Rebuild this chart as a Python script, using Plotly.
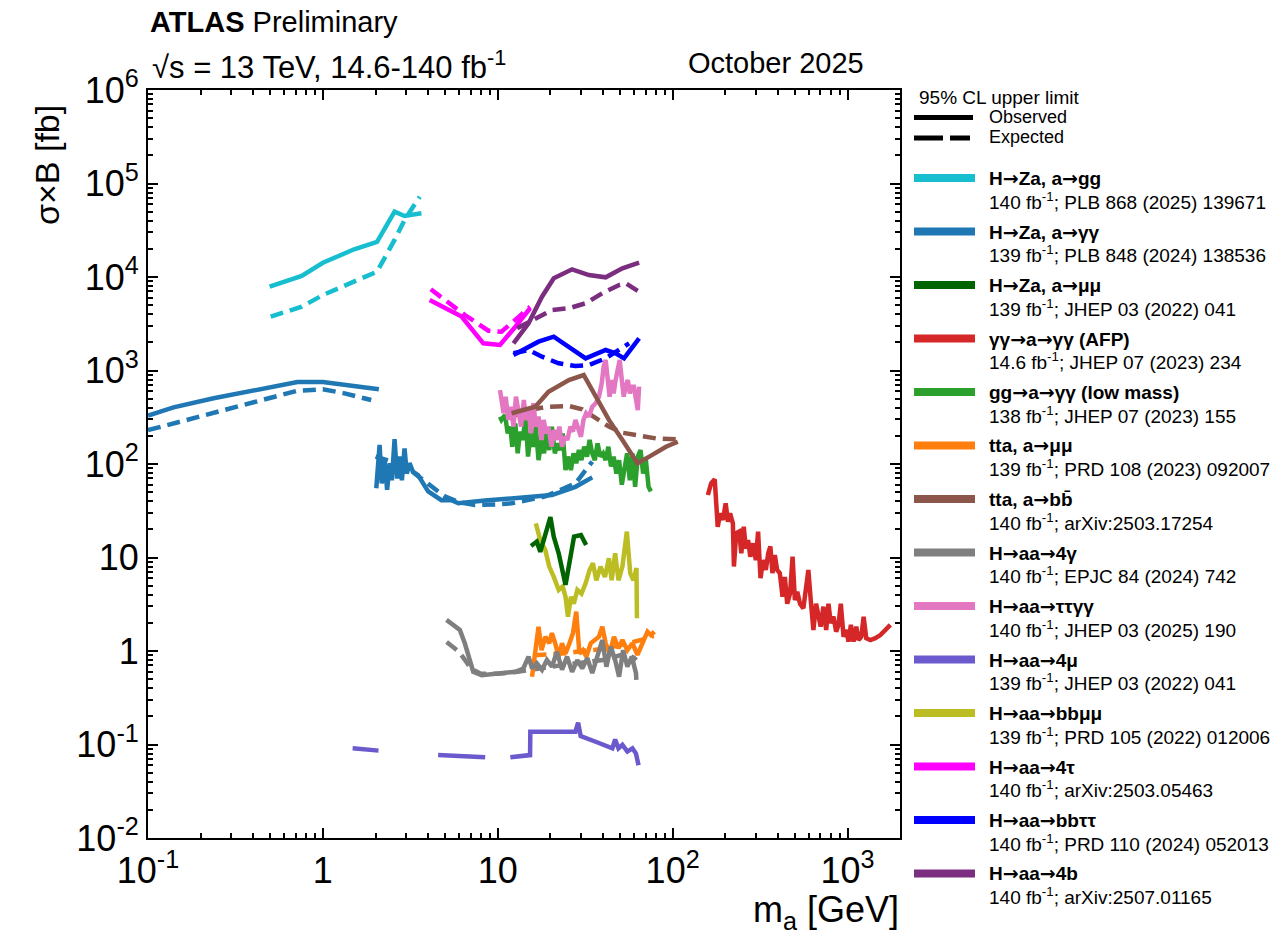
import plotly.graph_objects as go

# ---------------------------------------------------------------------------
# Upper limits on sigma x B [fb] versus m_a [GeV]
# ---------------------------------------------------------------------------

# H -> Za, a -> gg
zagg_mass_obs = [0.496, 0.757, 1.0, 1.51, 2.04, 2.57, 2.93, 3.66]
zagg_obs = [7870, 10250, 14200, 19800, 23700, 50000, 44900, 48000]
zagg_mass_exp = [0.503, 0.757, 1.0, 1.51, 2.04, 2.57, 2.93, 3.58]
zagg_exp = [3760, 4820, 6410, 8910, 11400, 24900, 40700, 72300]

# H -> Za, a -> gamma gamma (low-mass part)
zaaa_lo_mass = [0.1, 0.14, 0.237, 0.403, 0.715, 1.0, 1.33, 2.09]
zaaa_lo_obs = [330, 404, 504, 618, 753, 753, 700, 630]
zaaa_lo_mass_exp = [0.1, 0.14, 0.237, 0.403, 0.715, 1.0, 1.33, 1.89]
zaaa_lo_exp = [230, 272, 348, 464, 608, 630, 570, 483]

# H -> Za, a -> gamma gamma (higher-mass part)
zaaa_hi_mass = [2.02, 2.11, 2.17, 2.25, 2.33, 2.41, 2.48, 2.57, 2.66, 2.74, 2.83,
                2.93, 3.02, 3.13, 3.27, 3.5, 4.0, 4.76, 5.44, 5.95, 8.45, 13.1,
                20.4, 27.8, 34.7]
zaaa_hi_obs = [55, 160, 62, 110, 53, 102, 67, 184, 70, 120, 67,
               147, 79, 102, 83, 76, 51, 41, 41, 38, 40.6, 43,
               46.6, 57, 72]
zaaa_hi_mass_exp = [2.0, 2.5, 3.0, 3.35, 4.0, 4.98, 6.0, 7.4, 10, 12, 18.7, 27.8, 34.7]
zaaa_hi_exp = [120, 105, 95, 79, 62, 45, 39, 36.5, 37, 38, 45, 62, 106]

# H -> Za, a -> mu mu
zamm_mass = [15.5, 16.7, 17.5, 18.7, 20.0, 20.9, 22.3, 24.4, 26.1, 27.3, 29.9, 32.0]
zamm_obs = [13.3, 14.8, 11.5, 18, 27, 16.7, 11.1, 5.1, 10.2, 16.7, 17.4, 13.6]

# gamma gamma -> a -> gamma gamma (AFP)
afp_mass = [159, 166, 174, 177, 181, 187, 194, 201, 207, 213, 221, 224, 231, 240,
            247, 255, 262, 270, 278, 288, 299, 308, 318, 329, 341, 352, 362, 372,
            384, 396, 410, 425, 438, 452, 469, 485, 500, 516, 535, 559, 579, 597,
            616, 638, 661, 681, 702, 728, 755, 778, 802, 831, 861, 888, 915, 949,
            983, 1013, 1045, 1082, 1122, 1156, 1198, 1236, 1280, 1350, 1442, 1541,
            1647, 1758]
afp_obs = [46.6, 62, 68.6, 44.7, 21.3, 29.7, 25.2, 38, 24.2, 29.7, 23.2, 8.0, 18.2,
           18.9, 11.1, 21.3, 12.5, 15.4, 10.2, 14.2, 9.4, 18.9, 6.0, 9.4, 7.35, 11.1,
           13.1, 6.8, 10.6, 7.35, 6.8, 3.8, 6.2, 3.2, 4.1, 10.2, 3.5, 4.3, 3.2, 2.86,
           4.5, 7.35, 3.5, 1.68, 3.2, 2.43, 1.82, 2.98, 1.68, 3.2, 1.98, 2.33, 1.61,
           1.90, 3.2, 1.42, 1.68, 1.26, 1.90, 1.26, 1.82, 1.31, 1.42, 2.33, 1.37,
           1.31, 1.37, 1.48, 1.68, 1.90]

# gg -> a -> gamma gamma (low mass)
ggaa_mass = [10.3, 10.5, 11.0, 11.4, 11.8, 12.1, 12.6, 13.0, 13.4, 13.9, 14.4, 14.9,
             15.4, 16.0, 16.5, 17.1, 17.8, 18.4, 19.0, 19.7, 20.4, 21.2, 21.9, 22.7,
             23.5, 24.4, 25.2, 26.2, 27.1, 28.1, 29.1, 30.1, 31.2, 32.4, 33.5, 34.7,
             35.9, 37.2, 38.6, 40.0, 41.4, 42.9, 44.4, 46.0, 47.7, 49.4, 51.2, 53.0,
             54.9, 56.9, 58.9, 61.0, 63.2, 65.5, 67.8, 70.3, 72.8, 75.1]
ggaa_obs = [320, 296, 334, 213, 251, 153, 272, 130, 222, 181, 321, 120,
            213, 153, 251, 110, 181, 130, 222, 141, 251, 130, 166, 141,
            213, 86, 120, 86, 130, 102, 141, 110, 153, 120, 181, 130,
            110, 166, 120, 130, 110, 153, 94, 120, 79, 110, 60, 94,
            130, 67, 130, 57, 120, 141, 79, 110, 57, 51]

# t t a, a -> mu mu
ttamm_mass = [15.7, 16.5, 17.1, 17.8, 18.7, 19.7, 20.4, 21.3, 22.3, 23.3, 24.4, 25.7,
              26.9, 28.1, 29.3, 30.7, 32.1, 34.0, 36.3, 37.9, 39.6, 41.4, 43.6, 46.2,
              49.0, 51.6, 55.1, 58.9, 62.9, 67.3, 71.8, 75.1, 78.6]
ttamm_obs = [0.53, 1.11, 1.82, 1.02, 1.42, 1.21, 1.55, 1.21, 0.87, 1.21, 0.94, 1.21,
             1.55, 2.64, 0.94, 1.02, 0.87, 1.21, 1.31, 1.42, 1.82, 1.21, 0.94, 1.42,
             1.07, 1.31, 1.02, 1.21, 0.91, 1.26, 1.61, 1.48, 1.61]
ttamm_mass_exp = [16, 20, 25, 30, 40, 50, 60, 70, 78]
ttamm_exp = [0.9, 0.92, 0.95, 1.0, 1.05, 1.15, 1.25, 1.35, 1.45]

# t t a, a -> b b
ttabb_mass = [12.0, 16.4, 19.5, 25.5, 31.0, 36.2, 43.2, 51.6, 62.9, 73.5, 91.6, 107]
ttabb_obs = [349, 410, 593, 791, 895, 524, 296, 181, 102, 120, 153, 173]
ttabb_mass_exp = [12.0, 15.0, 19.5, 25.5, 30.4, 36.2, 43.2, 51.6, 61.5, 80.2, 107]
ttabb_exp = [321, 378, 410, 417, 385, 308, 251, 216, 204, 188, 184]

# H -> aa -> 4 gamma
aa4g_mass = [5.09, 6.07, 6.48, 6.78, 7.24, 8.09, 10.1, 12.6, 14.0, 15.0, 15.7, 16.7,
             17.9, 19.1, 20.4, 21.8, 23.3, 24.9, 26.6, 28.5, 30.4, 32.5, 34.7, 37.1,
             39.6, 41.8, 44.3, 46.9, 49.4, 52.1, 55.1, 58.4, 61.7, 62.0]
aa4g_obs = [2.15, 1.68, 1.21, 0.87, 0.60, 0.55, 0.58, 0.60, 0.65, 0.87, 0.65, 0.74,
            0.63, 0.80, 0.68, 0.98, 0.63, 0.87, 0.60, 0.80, 0.65, 0.84, 0.58, 0.87,
            1.31, 0.68, 1.11, 0.80, 0.53, 1.02, 0.68, 0.87, 0.58, 0.49]
aa4g_mass_exp = [5.1, 5.5, 6.0, 6.5, 7.0, 8, 10, 13, 16, 20, 25, 30, 35, 40, 45, 50,
                 55, 60, 62]
aa4g_exp = [1.25, 1.1, 0.98, 0.8, 0.65, 0.57, 0.57, 0.6, 0.64, 0.68, 0.72, 0.75,
            0.78, 0.8, 0.85, 0.9, 0.9, 0.85, 0.8]

# H -> aa -> tau tau gamma gamma
aattgg_mass = [10.3, 10.5, 10.8, 11.1, 11.5, 11.9, 12.3, 12.7, 13.1, 13.6, 14.1, 14.5,
               15.0, 15.5, 16.0, 16.5, 17.1, 17.8, 18.3, 18.9, 19.5, 20.3, 21.0, 21.7,
               22.5, 23.3, 24.2, 25.0, 26.0, 26.9, 27.8, 28.8, 29.9, 30.9, 32.0, 33.2,
               34.7, 36.3, 37.9, 39.3, 40.3, 41.4, 42.5, 43.6, 44.8, 46.0, 47.2, 48.5,
               49.8, 51.2, 52.5, 53.9, 55.4, 56.9, 58.4, 60.0, 61.5, 63.2, 64.3]
aattgg_obs = [618, 484, 349, 525, 296, 410, 251, 525, 349, 251, 484, 296,
              378, 213, 446, 251, 321, 181, 296, 213, 251, 153, 231, 181,
              251, 153, 196, 181, 251, 222, 296, 251, 196, 296, 349, 321,
              410, 446, 525, 730, 1099, 1295, 791, 525, 791, 570, 791, 1099,
              1295, 791, 525, 671, 791, 570, 671, 671, 484, 378, 671]

# H -> aa -> 4 mu (gaps around vetoed resonance regions)
aa4m_mass = [1.48, 2.08, None, 4.56, 8.47, None, 11.8, 15.3, 15.35, 27.8, 28.8,
             29.8, 36.3, 45.2, 46.9, 49.0, 51.6, 55.1, 58.9, 61.7, 63.8]
aa4m_obs = [0.091, 0.086, None, 0.077, 0.073, None, 0.073, 0.077, 0.137, 0.137, 0.171,
            0.123, 0.107, 0.091, 0.113, 0.091, 0.099, 0.084, 0.091, 0.080, 0.060]

# H -> aa -> b b mu mu
aabbmm_mass = [16.5, 17.5, 18.7, 19.7, 20.9, 22.3, 23.5, 24.4, 25.2, 26.2, 27.2, 28.5,
               30.1, 31.8, 33.5, 35.0, 36.6, 38.7, 41.0, 43.2, 44.8, 46.9, 49.0, 51.6,
               54.7, 57.2, 59.7, 62.1, 62.5]
aabbmm_obs = [23.2, 15.4, 12.0, 8.0, 6.2, 4.5, 4.9, 3.8, 2.33, 3.8, 3.2, 4.5,
              4.1, 5.3, 7.35, 8.7, 5.7, 8.0, 6.2, 9.8, 5.7, 11.1, 5.7, 8.0,
              18.9, 6.8, 5.7, 7.7, 2.24]

# H -> aa -> 4 tau
aa4t_mass = [4.08, 6.21, 8.27, 10.3, 12.6, 15.3]
aa4t_obs = [5680, 3770, 1954, 1874, 2940, 4630]
aa4t_mass_exp = [4.14, 6.49, 8.84, 10.5, 12.9, 15.3]
aa4t_exp = [7390, 3920, 2665, 2600, 3615, 4810]

# H -> aa -> b b tau tau
aabbtt_mass = [12.3, 14.4, 17.1, 20.9, 25.5, 31.8, 41.4, 47.2, 52.7, 58.9, 64.3]
aabbtt_obs = [1465, 1726, 2033, 2300, 1798, 1349, 1656, 1528, 1349, 1798, 2210]
aabbtt_mass_exp = [12.3, 15.0, 17.9, 22.3, 27.8, 33.2, 41.4, 49.4, 56.4]
aabbtt_exp = [1528, 1656, 1405, 1194, 1117, 1145, 1349, 1656, 1954]

# H -> aa -> 4b
aa4b_mass = [12.3, 15.0, 17.9, 20.9, 26.6, 33.2, 41.4, 51.6, 64.3]
aa4b_obs = [1954, 3200, 6160, 9680, 12080, 10500, 9920, 12390, 14220]
aa4b_mass_exp = [12.9, 16.4, 20.4, 25.5, 31.8, 39.6, 49.4, 53.9, 64.3]
aa4b_exp = [2830, 3615, 4440, 4630, 5240, 6700, 8210, 8570, 6970]

# Legend text
legend_titles = ["H→Za, a→gg", "H→Za, a→γγ", "H→Za, a→μμ", "γγ→a→γγ (AFP)",
                 "gg→a→γγ (low mass)", "tta, a→μμ", "tta, a→bb\u0304", "H→aa→4γ",
                 "H→aa→ττγγ", "H→aa→4μ", "H→aa→bbμμ", "H→aa→4τ", "H→aa→bbττ",
                 "H→aa→4b"]
legend_refs = ["140 fb<sup>-1</sup>; PLB 868 (2025) 139671",
               "139 fb<sup>-1</sup>; PLB 848 (2024) 138536",
               "139 fb<sup>-1</sup>; JHEP 03 (2022) 041",
               "14.6 fb<sup>-1</sup>; JHEP 07 (2023) 234",
               "138 fb<sup>-1</sup>; JHEP 07 (2023) 155",
               "139 fb<sup>-1</sup>; PRD 108 (2023) 092007",
               "140 fb<sup>-1</sup>; arXiv:2503.17254",
               "140 fb<sup>-1</sup>; EPJC 84 (2024) 742",
               "140 fb<sup>-1</sup>; JHEP 03 (2025) 190",
               "139 fb<sup>-1</sup>; JHEP 03 (2022) 041",
               "139 fb<sup>-1</sup>; PRD 105 (2022) 012006",
               "140 fb<sup>-1</sup>; arXiv:2503.05463",
               "140 fb<sup>-1</sup>; PRD 110 (2024) 052013",
               "140 fb<sup>-1</sup>; arXiv:2507.01165"]
legend_colors = ["#17becf", "#1f77b4", "#006400", "#d62728", "#2ca02c", "#ff7f0e",
                 "#8c564b", "#7f7f7f", "#e377c2", "#6a5acd", "#bcbd22", "#ff00ff",
                 "#0000ff", "#7b2d80"]

x_tickvals = [0.1, 1, 10, 100, 1000]
x_ticktext = ["10<sup>-1</sup>", "1", "10", "10<sup>2</sup>", "10<sup>3</sup>"]
y_tickvals = [1e-2, 1e-1, 1, 10, 1e2, 1e3, 1e4, 1e5, 1e6]
y_ticktext = ["10<sup>-2</sup>", "10<sup>-1</sup>", "1", "10", "10<sup>2</sup>",
              "10<sup>3</sup>", "10<sup>4</sup>", "10<sup>5</sup>", "10<sup>6</sup>"]

FONT = "Liberation Sans, Arial, sans-serif"
ARROW_FONT = "DejaVu Sans"
LW = 4.5
DASH = "13px,7px"
C = dict(zip(legend_titles, legend_colors))

fig = go.Figure()


def add(x, y, color, dashed=False):
    fig.add_trace(go.Scatter(
        x=x, y=y, mode="lines", showlegend=False, hoverinfo="skip",
        connectgaps=False,
        line=dict(color=color, width=LW, dash=DASH if dashed else "solid"),
    ))


add(zagg_mass_obs, zagg_obs, C["H→Za, a→gg"])
add(zagg_mass_exp, zagg_exp, C["H→Za, a→gg"], True)
add(zaaa_lo_mass, zaaa_lo_obs, C["H→Za, a→γγ"])
add(zaaa_lo_mass_exp, zaaa_lo_exp, C["H→Za, a→γγ"], True)
add(zaaa_hi_mass_exp, zaaa_hi_exp, C["H→Za, a→γγ"], True)
add(zaaa_hi_mass, zaaa_hi_obs, C["H→Za, a→γγ"])
add(afp_mass, afp_obs, C["γγ→a→γγ (AFP)"])
add(ggaa_mass, ggaa_obs, C["gg→a→γγ (low mass)"])
add(ttabb_mass_exp, ttabb_exp, C["tta, a→bb\u0304"], True)
add(aattgg_mass, aattgg_obs, C["H→aa→ττγγ"])
add(ttabb_mass, ttabb_obs, C["tta, a→bb\u0304"])
add(aa4g_mass_exp, aa4g_exp, C["H→aa→4γ"], True)
add(ttamm_mass_exp, ttamm_exp, C["tta, a→μμ"], True)
add(ttamm_mass, ttamm_obs, C["tta, a→μμ"])
add(aa4g_mass, aa4g_obs, C["H→aa→4γ"])
add(aabbmm_mass, aabbmm_obs, C["H→aa→bbμμ"])
add(zamm_mass, zamm_obs, C["H→Za, a→μμ"])
add(aa4m_mass, aa4m_obs, C["H→aa→4μ"])
add(aa4t_mass_exp, aa4t_exp, C["H→aa→4τ"], True)
add(aa4t_mass, aa4t_obs, C["H→aa→4τ"])
add(aabbtt_mass_exp, aabbtt_exp, C["H→aa→bbττ"], True)
add(aabbtt_mass, aabbtt_obs, C["H→aa→bbττ"])
add(aa4b_mass_exp, aa4b_exp, C["H→aa→4b"], True)
add(aa4b_mass, aa4b_obs, C["H→aa→4b"])

# Frame geometry (pixels) used for placing the side legend and header text
WIDTH, HEIGHT = 1276, 935
L, R, T, B = 148, 900, 90, 838


def fx(p):
    return (p - L) / (R - L)


def fy(p):
    return (B - p) / (B - T)


def minor_vals(lo, hi):
    vals = []
    for e in range(lo, hi):
        for k in range(2, 10):
            vals.append(k * 10.0 ** e)
    return vals


axis_common = dict(
    type="log", showgrid=False, zeroline=False, showline=True, linecolor="black",
    linewidth=2, mirror="allticks", ticks="inside", ticklen=10, tickwidth=2,
    tickcolor="black", tickmode="array",
    tickfont=dict(family=FONT, size=36, color="black"),
)

fig.update_xaxes(
    **axis_common, range=[-1, 3.3], tickvals=x_tickvals, ticktext=x_ticktext,
    minor=dict(ticks="inside", ticklen=5, tickwidth=1.5, tickcolor="black",
               tickmode="array", tickvals=minor_vals(-1, 4), showgrid=False),
)
fig.update_yaxes(
    **axis_common, range=[-2, 6], tickvals=y_tickvals, ticktext=y_ticktext,
    minor=dict(ticks="inside", ticklen=5, tickwidth=1.5, tickcolor="black",
               tickmode="array", tickvals=minor_vals(-2, 6), showgrid=False),
)

annotations = []
shapes = []


def text(px, py, s, size, anchor="left", angle=0):
    annotations.append(dict(
        xref="paper", yref="paper", x=fx(px), y=fy(py), text=s, showarrow=False,
        xanchor=anchor, yanchor="middle", textangle=angle,
        font=dict(family=FONT, size=size, color="black"),
    ))


def long_arrows(s):
    # draw the arrow glyphs with a font that has full-width arrows
    return s.replace("→", '<span style="font-family:%s">→</span>' % ARROW_FONT)


# Header
text(148, 22, "<b>ATLAS</b> Preliminary", 29)
text(150, 65, "√s = 13 TeV, 14.6-140 fb<sup>-1</sup>", 31)
text(866, 63, "October 2025", 29, anchor="right")

# Axis titles
text(47, 165, "σ×B [fb]", 34, anchor="center", angle=-90)
text(901, 912, "m<sub>a</sub> [GeV]", 36, anchor="right")

# Side legend: line styles
text(917, 97, "95% CL upper limit", 19)
shapes.append(dict(type="line", xref="paper", yref="paper",
                   x0=fx(914), x1=fx(973), y0=fy(117.5), y1=fy(117.5),
                   line=dict(color="black", width=5)))
text(987, 117, "Observed", 18)
for a, b in [(914, 943), (950, 970)]:
    shapes.append(dict(type="line", xref="paper", yref="paper",
                       x0=fx(a), x1=fx(b), y0=fy(138), y1=fy(138),
                       line=dict(color="black", width=5)))
text(987, 137, "Expected", 18)

# Side legend: analyses
for i, (title, ref, color) in enumerate(zip(legend_titles, legend_refs, legend_colors)):
    yc = 178 + i * 53.5
    shapes.append(dict(type="line", xref="paper", yref="paper",
                       x0=fx(914), x1=fx(975), y0=fy(yc), y1=fy(yc),
                       line=dict(color=color, width=8)))
    text(987, yc, "<b>" + long_arrows(title) + "</b>", 19)
    text(987, yc + 22.5, ref, 19)

fig.update_layout(
    width=WIDTH, height=HEIGHT,
    margin=dict(l=L, r=WIDTH - R, t=T, b=HEIGHT - B),
    paper_bgcolor="white", plot_bgcolor="white",
    annotations=annotations, shapes=shapes,
)

fig.write_html("out.html")
